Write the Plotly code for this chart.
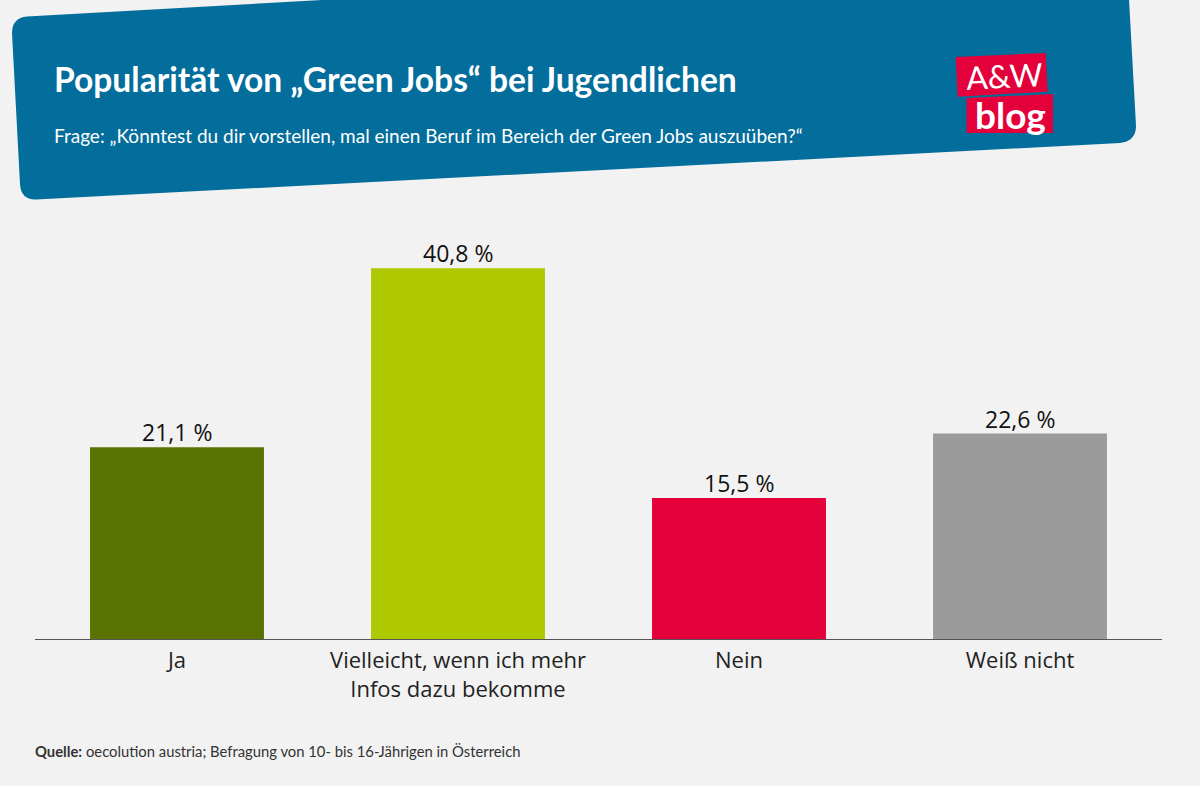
import plotly.graph_objects as go

categories = ["Ja", "Vielleicht, wenn ich mehr<br>Infos dazu bekomme", "Nein", "Weiß nicht"]
values = [21.1, 40.8, 15.5, 22.6]
colors = ["#5a7200", "#aec900", "#e4003a", "#9b9b9b"]
title = "Popularität von „Green Jobs“ bei Jugendlichen"
subtitle = "Frage: „Könntest du dir vorstellen, mal einen Beruf im Bereich der Green Jobs auszuüben?“"
source = "<b>Quelle:</b> oecolution austria; Befragung von 10- bis 16-Jährigen in Österreich"
labels = [f"{v:.1f}".replace(".", ",") + " %" for v in values]

W, H = 1200, 786
BODY = "Open Sans, Noto Sans, sans-serif"
NARROW = "Lato, Noto Sans, sans-serif"


def px(x, y):
    return f"{x / W:.5f} {1 - y / H:.5f}"


def poly(points):
    return "M " + " L ".join(px(x, y) for x, y in points) + " Z"


banner = (
    f"M {px(27, 16.5)} L {px(340, -1)} L {px(1129, -1)} L {px(1136, 126)} "
    f"Q {px(1136, 141)} {px(1120, 143)} L {px(36, 199.5)} Q {px(21, 200)} {px(20, 184)} "
    f"L {px(12, 33)} Q {px(12, 18)} {px(27, 16.5)} Z"
)

fig = go.Figure(
    go.Bar(
        x=categories,
        y=values,
        marker=dict(color=colors, line=dict(width=0)),
        hoverinfo="skip",
    )
)

shapes = [
    dict(type="path", xref="paper", yref="paper", path=banner, fillcolor="#036d9c", line=dict(width=0), layer="below"),
    dict(type="path", xref="paper", yref="paper", path=poly([(955.7, 57), (1045.7, 53), (1047.7, 91.7), (957.7, 96.7)]), fillcolor="#e4003a", line=dict(width=0)),
    dict(type="path", xref="paper", yref="paper", path=poly([(966.5, 98), (1053, 94), (1053, 133), (966.5, 133)]), fillcolor="#e4003a", line=dict(width=0)),
]


def note(x, y, text, size, color, family, anchor="left", angle=0):
    return dict(
        xref="paper", yref="paper", x=x / W, y=1 - y / H, text=text, showarrow=False,
        xanchor=anchor, yanchor="middle", textangle=angle,
        font=dict(size=size, color=color, family=family),
    )


annotations = [
    note(52, 79, f"<b>{title}</b>", 33.6, "#ffffff", NARROW),
    note(52, 135, subtitle, 19, "#ffffff", NARROW),
    note(33, 751, source, 14.8, "#333333", "Lato, sans-serif"),
    note(1004, 75, "A&amp;W", 32, "#ffffff", "Lato, sans-serif", "center", -3),
    note(1010, 114, "<b>blog</b>", 37, "#ffffff", "Lato, sans-serif", "center"),
]
for cat, val, lab in zip(categories, values, labels):
    annotations.append(dict(
        xref="x", yref="y", x=cat, y=val, text=lab, showarrow=False,
        xanchor="center", yanchor="bottom", yshift=-3,
        font=dict(family=BODY, size=23, color="#111111"),
    ))

fig.update_layout(
    width=W,
    height=H,
    paper_bgcolor="#f2f2f2",
    plot_bgcolor="#f2f2f2",
    margin=dict(l=0, r=0, t=0, b=0),
    showlegend=False,
    bargap=0.381,
    shapes=shapes,
    annotations=annotations,
    xaxis=dict(
        domain=[35 / W, 1162 / W],
        range=[-0.5053, 3.5053],
        tickfont=dict(family=BODY, size=22, color="#222222"),
        ticks="",
        ticklabelstandoff=2,
        showline=True,
        linecolor="#555555",
        linewidth=1,
        showgrid=False,
        zeroline=False,
        fixedrange=True,
    ),
    yaxis=dict(
        domain=[1 - 639 / H, 1 - 200 / H],
        range=[0, 439 / 9.09],
        visible=False,
        fixedrange=True,
    ),
)

fig.write_html("out.html", post_script="document.body.style.margin='0';", config=dict(displayModeBar=False))
